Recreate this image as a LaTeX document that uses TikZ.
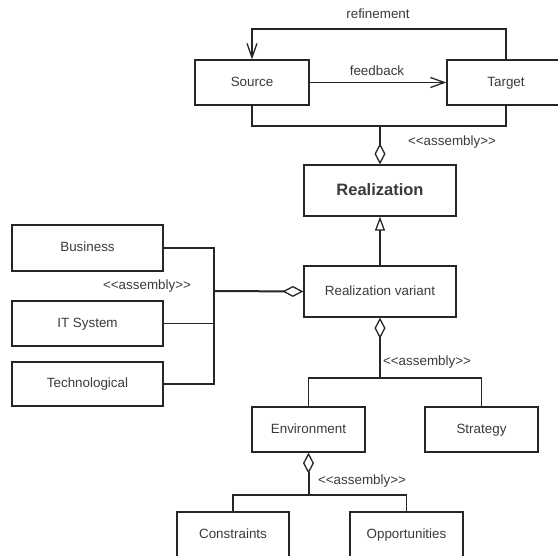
\documentclass[tikz,border=0pt]{standalone}
\usepackage{fontspec}
\setmainfont{Liberation Sans}
\usetikzlibrary{arrows.meta}
\definecolor{ln}{HTML}{262626}
\definecolor{tx}{HTML}{3A3A3A}
\begin{document}
\begin{tikzpicture}[x=1pt,y=-1pt,
  box/.style={draw=ln,line width=1.3pt,rectangle,inner sep=0pt,text=tx,
    text height=9.6pt,text depth=1.6pt,
    font=\fontsize{13.4}{16}\selectfont},
  lbl/.style={text=tx,font=\fontsize{13.4}{16}\selectfont,inner sep=0pt,
    text height=9.6pt,text depth=2.8pt},
  conn/.style={draw=ln,line width=1.3pt},
  stem/.style={draw=ln,line width=2pt,{Diamond[open,length=21pt,width=11pt,line width=1.3pt]}-},
  barb/.style={-{Straight Barb[length=14pt,width=10pt,line width=1.3pt]}}]
\useasboundingbox (0,0) rectangle (558,556);
\clip (0,0) rectangle (558,556);
% boxes
\node[box,minimum width=114pt,minimum height=45pt] (src) at (252,82.5) {Source};
\node[box,minimum width=118pt,minimum height=45pt] (tgt) at (506,82.5) {Target};
\node[box,minimum width=152pt,minimum height=51pt,text height=12pt,text depth=2pt,font=\fontsize{16.5}{19}\selectfont\bfseries] (real) at (380,190.5) {Realization};
\node[box,minimum width=152pt,minimum height=51pt] (var) at (380,291.5) {Realization variant};
\node[box,minimum width=151pt,minimum height=46pt] (bus) at (87.5,248) {Business};
\node[box,minimum width=151pt,minimum height=45pt] (its) at (87.5,323.5) {IT System};
\node[box,minimum width=151pt,minimum height=44pt] (tec) at (87.5,384) {Technological};
\node[box,minimum width=113pt,minimum height=45pt] (env) at (308.5,429.5) {Environment};
\node[box,minimum width=113pt,minimum height=45pt] (str) at (481.5,429.5) {Strategy};
\node[box,minimum width=112pt,minimum height=45pt] (con) at (233,534.5) {Constraints};
\node[box,minimum width=113pt,minimum height=45pt] (opp) at (406.5,534.5) {Opportunities};
% junctions
\coordinate (r1) at (380,29);
\coordinate (j1) at (380,126);
\coordinate (j2) at (214,291);
\coordinate (j3) at (380,378);
\coordinate (j4) at (308.5,495);
% connectors
\draw[conn,barb] (tgt.north) |- (r1) -| (src.north);
\draw[conn,barb] (src.east) -- (tgt.west);
\draw[conn] (src.south) |- (j1) -| (tgt.south);
\draw[stem] (real.north) -- (j1);
\draw[conn,-{Triangle[open,length=14pt,width=10pt,line width=1.3pt]}] (var.north) -- (real.south);
\draw[conn] (bus.east) -| (j2) |- (tec.east);
\draw[conn] (its.east) -- (its.east -| j2);
\draw[stem] (var.west) -- (j2);
\draw[stem] (var.south) -- (j3);
\draw[conn] (env.north) |- (j3) -| (str.north);
\draw[stem] (env.south) -- (j4);
\draw[conn] (con.north) |- (j4) -| (opp.north);
% labels
\node[lbl] (lref) at (378,15) {refinement};
\node[lbl] (lfb) at (377,72) {feedback};
\node[lbl] (la1) at (452,142) {<{}<assembly>{}>};
\node[lbl] (la2) at (147,286) {<{}<assembly>{}>};
\node[lbl] (la3) at (427,362) {<{}<assembly>{}>};
\node[lbl] (la4) at (362,481) {<{}<assembly>{}>};
\end{tikzpicture}
\end{document}
